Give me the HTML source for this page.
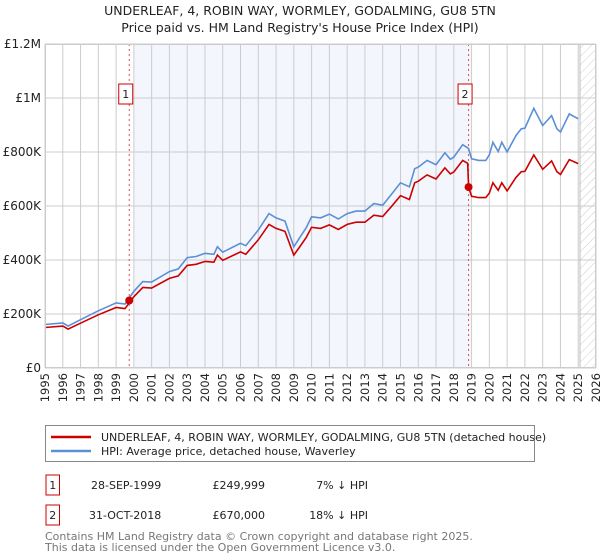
<!DOCTYPE html>
<html><head><meta charset="utf-8"><style>
body{margin:0;background:#fff;font-family:"DejaVu Sans","Liberation Sans",sans-serif;}
#wrap{position:relative;width:600px;height:560px;overflow:hidden;}
</style></head><body><div id="wrap">
<svg id="svg" width="600" height="560" xmlns="http://www.w3.org/2000/svg" font-family="DejaVu Sans, Liberation Sans, sans-serif">
<defs><pattern id="hatch" width="6" height="6" patternUnits="userSpaceOnUse" patternTransform="rotate(45)"><line x1="0" y1="0" x2="0" y2="6" stroke="#ccc" stroke-width="1"/></pattern></defs>
<text x="300" y="15" text-anchor="middle" font-size="12.5" fill="#222">UNDERLEAF, 4, ROBIN WAY, WORMLEY, GODALMING, GU8 5TN</text>
<text x="300" y="32" text-anchor="middle" font-size="12.5" fill="#222">Price paid vs. HM Land Registry's House Price Index (HPI)</text>
<g id="plot"></g>
<rect x="45.5" y="425.5" width="489" height="36" fill="#fff" stroke="#888"/>
<line x1="51" y1="437" x2="91" y2="437" stroke="#cc0000" stroke-width="2.5"/>
<text x="101" y="441" font-size="11" fill="#222">UNDERLEAF, 4, ROBIN WAY, WORMLEY, GODALMING, GU8 5TN (detached house)</text>
<line x1="51" y1="451" x2="91" y2="451" stroke="#5b8fd6" stroke-width="2.5"/>
<text x="101" y="455" font-size="11" fill="#222">HPI: Average price, detached house, Waverley</text>
<g font-size="11" fill="#222">
<rect x="46" y="475" width="13.5" height="20" fill="none" stroke="#cc0000"/>
<text x="52.7" y="489" text-anchor="middle">1</text>
<text x="91" y="489">28-SEP-1999</text>
<text x="265" y="489" text-anchor="end">£249,999</text>
<text x="368" y="489" text-anchor="end">7% ↓ HPI</text>
<rect x="46" y="505" width="13.5" height="20" fill="none" stroke="#cc0000"/>
<text x="52.7" y="519" text-anchor="middle">2</text>
<text x="89" y="519">31-OCT-2018</text>
<text x="265" y="519" text-anchor="end">£670,000</text>
<text x="368" y="519" text-anchor="end">18% ↓ HPI</text>
</g>
<text x="45" y="540" font-size="11" fill="#777">Contains HM Land Registry data © Crown copyright and database right 2025.</text>
<text x="45" y="551" font-size="11" fill="#777">This data is licensed under the Open Government Licence v3.0.</text>
</svg></div>
<script>
const years=[1995,1996,1996.3,1997,1998,1999,1999.5,2000,2000.5,2001,2002,2002.5,2003,2003.5,2004,2004.5,2004.7,2005,2006,2006.3,2007,2007.6,2008,2008.5,2009,2009.3,2009.7,2010,2010.5,2011,2011.5,2012,2012.5,2013,2013.5,2014,2014.5,2015,2015.5,2015.8,2016,2016.5,2017,2017.5,2017.8,2018,2018.5,2018.78,2018.83,2019,2019.4,2019.8,2020,2020.2,2020.5,2020.7,2021,2021.5,2021.8,2022,2022.5,2023,2023.5,2023.8,2024,2024.5,2025];
const hpiValues=[161,167,155,179,212,241,237,284,320,318,357,367,409,413,425,421,449,429,462,453,511,572,556,544,449,480,520,560,556,570,552,572,581,581,609,603,644,686,671,738,744,769,753,797,773,781,827,815,812,775,769,769,790,836,802,836,800,861,886,888,962,898,935,886,874,941,923];
const priceValues=[150,155,144,166,197,224,220,264,298,296,332,341,380,384,395,392,418,399,430,421,475,532,517,506,418,446,484,521,517,530,513,532,540,540,566,561,599,638,624,686,692,715,700,741,719,726,769,758,670,636,631,631,648,686,658,686,656,706,727,728,789,736,767,727,717,772,757];
const saleYears=[1999.74,2018.83];
const salePrices=[249999,670000];
const yTicks=[0,200000,400000,600000,800000,1000000,1200000];
const yTickLabels=["£0","£200K","£400K","£600K","£800K","£1M","£1.2M"];
const xTicks=[1995,1996,1997,1998,1999,2000,2001,2002,2003,2004,2005,2006,2007,2008,2009,2010,2011,2012,2013,2014,2015,2016,2017,2018,2019,2020,2021,2022,2023,2024,2025,2026];

const NS="http://www.w3.org/2000/svg";
const L=45,R=596,T=44,B=368;
const xS=y=>L+(y-1995)/(2026-1995)*(R-L);
const yS=v=>B-v/1200000*(B-T);
const g=document.getElementById('plot');
function mk(t,a){const e=document.createElementNS(NS,t);for(const k in a)e.setAttribute(k,a[k]);g.appendChild(e);return e;}
let e;
e=mk('rect',{x:L,y:T,width:R-L,height:B-T,fill:'#fff'});


e=mk('rect',{x:xS(2000.04),y:T,width:xS(2019.0)-xS(2000.04),height:B-T,fill:'#f3f6fd'});


e=mk('rect',{x:xS(2025.1),y:T,width:R-xS(2025.1),height:B-T,fill:'url(#hatch)'});


xTicks.forEach((y,i)=>{
 e=mk('line',{x1:xS(y),x2:xS(y),y1:T,y2:B,stroke:'#ccc','stroke-width':1});
 
 
 e=mk('text',{x:0,y:0,'font-size':11.5,fill:'#222','text-anchor':'end',transform:`translate(${xS(y)+4},${B+5}) rotate(-90)`});
 e.textContent=y;
 
 
});
yTicks.forEach((v,i)=>{
 e=mk('line',{x1:L,x2:R,y1:yS(v),y2:yS(v),stroke:'#ccc','stroke-width':1});
 
 
 e=mk('text',{x:L-4,y:yS(v)+4,'font-size':12,fill:'#222','text-anchor':'end'});
 e.textContent=yTickLabels[i];
 
 
});
e=mk('line',{x1:xS(2025.1),x2:xS(2025.1),y1:T,y2:B,stroke:'#bbb','stroke-width':1});


saleYears.forEach((y,i)=>{
 e=mk('line',{x1:xS(y),x2:xS(y),y1:T,y2:B,stroke:'#e05050','stroke-width':1,'stroke-dasharray':'2,3'});
 
 
 e=mk('rect',{x:xS(y)-10.5,y:84,width:14,height:20,fill:'#fff',stroke:'#cc0000'});
 
 
 e=mk('text',{x:xS(y)-3.5,y:98,'font-size':11,fill:'#222','text-anchor':'middle'});
 e.textContent=i+1;
 
 
});
const pts=a=>years.map((y,i)=>xS(y).toFixed(1)+','+yS(a[i]*1000).toFixed(1)).join(' ');
e=mk('polyline',{points:pts(hpiValues),fill:'none',stroke:'#5b8fd6','stroke-width':1.6});


e=mk('polyline',{points:pts(priceValues),fill:'none',stroke:'#cc0000','stroke-width':1.6});


saleYears.forEach((y,i)=>{
 e=mk('circle',{cx:xS(y),cy:yS(salePrices[i]),r:4,fill:'#cc0000'});
 
 
});
e=mk('rect',{x:L+0.5,y:T+0.5,width:R-L-1,height:B-T-1,fill:'none',stroke:'#ccc'});


</script></body></html>
